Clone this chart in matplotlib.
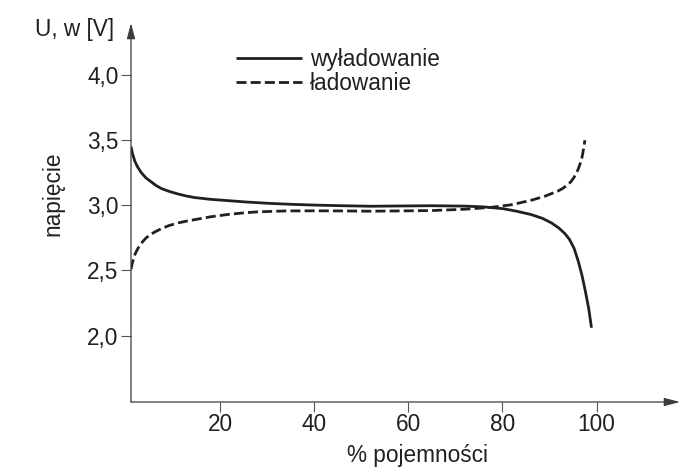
import matplotlib
matplotlib.use("Agg")
import matplotlib.pyplot as plt

# values
capacity_discharge = [1.1, 1.4, 1.9, 2.5, 3.3, 4.3, 5.4, 6.4, 7.5, 9.2, 11.1, 12.8, 14.6,
                      18.0, 21.7, 25.0, 30.0, 35.0, 40.0, 46.0, 52.0, 58.0, 65.0, 72.0,
                      76.0, 80.0, 83.0, 86.0, 88.5, 90.4, 92.0, 93.2, 94.2, 95.2, 96.1,
                      96.9, 97.6, 98.3, 98.9]
voltage_discharge = [3.45, 3.40, 3.34, 3.295, 3.25, 3.21, 3.18, 3.153, 3.13, 3.107, 3.087,
                     3.072, 3.06, 3.046, 3.036, 3.027, 3.016, 3.008, 3.002, 2.997, 2.993,
                     2.995, 2.997, 2.994, 2.988, 2.975, 2.955, 2.93, 2.90, 2.865, 2.825,
                     2.785, 2.74, 2.67, 2.57, 2.46, 2.34, 2.21, 2.06]

capacity_charge = [1.1, 1.4, 1.9, 2.5, 3.3, 4.3, 5.4, 6.4, 7.5, 9.2, 11.1, 12.8, 14.6,
                   18.0, 21.7, 25.0, 28.0, 34.0, 40.0, 46.0, 52.0, 58.0, 65.0, 72.0,
                   77.7, 82.0, 86.2, 89.0, 91.8, 92.8, 93.7, 94.5, 95.1, 95.6, 96.1,
                   96.5, 96.9, 97.2, 97.5]
voltage_charge = [2.51, 2.56, 2.62, 2.665, 2.71, 2.75, 2.78, 2.80, 2.82, 2.845, 2.865,
                  2.878, 2.89, 2.912, 2.93, 2.942, 2.95, 2.957, 2.958, 2.957, 2.955,
                  2.957, 2.96, 2.97, 2.985, 3.005, 3.04, 3.07, 3.11, 3.13, 3.155, 3.18,
                  3.21, 3.24, 3.28, 3.32, 3.37, 3.43, 3.50]

x_ticks = [20, 40, 60, 80, 100]
x_tick_labels = ["20", "40", "60", "80", "100"]
y_ticks = [2.0, 2.5, 3.0, 3.5, 4.0]
y_tick_labels = ["2,0", "2,5", "3,0", "3,5", "4,0"]

plt.rcParams['font.family'] = ['Liberation Sans', 'DejaVu Sans']

ink = "#231f20"
axis_col = "#3c3c3c"
fs = 16.3

fig = plt.figure(figsize=(7, 4.76), dpi=100)
W, H = 700.0, 476.0
ax = fig.add_axes([131 / W, 1 - 402 / H, 549 / W, 379 / H])
ax.set_xlim(1.1, 117.7)
ax.set_ylim(1.49, 4.40)

for s in ax.spines.values():
    s.set_visible(False)

# axis lines with arrow heads
arrow = dict(arrowstyle='-|>,head_length=0.95,head_width=0.25', mutation_scale=10,
             color=axis_col, lw=0.9, shrinkA=0, shrinkB=0)
ax.annotate('', xy=(1, 0), xytext=(0, 0), xycoords='axes fraction', arrowprops=arrow,
            annotation_clip=False)
ax.annotate('', xy=(0, 1), xytext=(0, 0), xycoords='axes fraction', arrowprops=arrow,
            annotation_clip=False)

ax.plot(capacity_discharge, voltage_discharge, color=ink, lw=2.0, label='wyładowanie',
        solid_capstyle='butt', solid_joinstyle='round')
ax.plot(capacity_charge, voltage_charge, color=ink, lw=2.0, dashes=(3.6, 1.5),
        label='ładowanie')

ax.set_xticks(x_ticks)
ax.set_xticklabels(x_tick_labels)
ax.set_yticks(y_ticks)
ax.set_yticklabels(y_tick_labels)
ax.tick_params(direction='out', length=7.5, width=0.8, color='#555555',
               labelsize=fs, labelcolor=ink)
ax.tick_params(axis='x', pad=0.5)
ax.tick_params(axis='y', pad=1.5)

leg = ax.legend(loc='upper left', bbox_to_anchor=(236 / W, 1 - 48 / H),
                bbox_transform=fig.transFigure, frameon=False, fontsize=fs,
                handlelength=2.9, handletextpad=0.35, labelspacing=0.05,
                borderpad=0, borderaxespad=0)
for t in leg.get_texts():
    t.set_color(ink)

fig.text(35 / W, 1 - 35.7 / H, 'U, w [V]', fontsize=fs, color=ink,
         ha='left', va='baseline')
fig.text(53 / W, 1 - 194 / H, 'napięcie', fontsize=fs, color=ink,
         rotation=90, ha='center', va='center')
fig.text(417.5 / W, 1 - 461.7 / H, '% pojemności', fontsize=fs, color=ink,
         ha='center', va='baseline')

fig.savefig('out.png', dpi=100)
